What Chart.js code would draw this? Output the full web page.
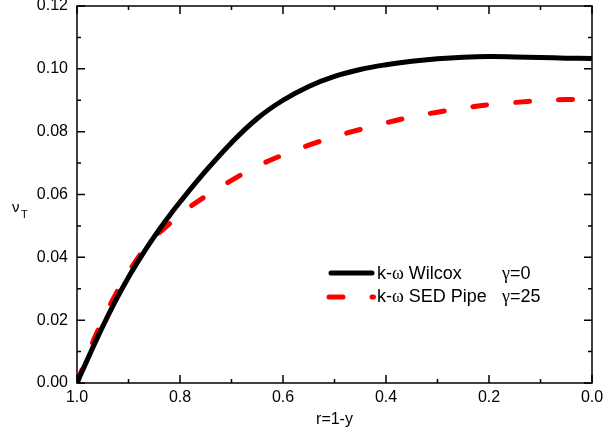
<!DOCTYPE html>
<html lang="en">
<head>
  <meta charset="UTF-8" />
  <title>nu_T profile</title>
  <script src="https://cdn.jsdelivr.net/npm/chart.js@4.4.1/dist/chart.umd.min.js"></script>
  <style>
    * { box-sizing: border-box; margin: 0; padding: 0; }
    body { background: #ffffff; width: 603px; height: 444px; overflow: hidden; }
    .chart-wrapper { position: relative; width: 603px; height: 444px; }
  </style>
</head>
<body>
  <div class="chart-wrapper">
    <canvas id="nuChart"></canvas>
  </div>

  <script>
    // r = 1 - y
    const rValues = [1.0, 0.975, 0.95, 0.925, 0.9, 0.875, 0.85, 0.825, 0.8, 0.75, 0.7, 0.65, 0.6,
                     0.55, 0.5, 0.45, 0.4, 0.35, 0.3, 0.25, 0.2, 0.15, 0.1, 0.05, 0.0];
    // k-omega Wilcox, gamma = 0
    const wilcox = [0, 0.0092, 0.0180, 0.0262, 0.0337, 0.0404, 0.0466, 0.0523, 0.0576, 0.0675, 0.0765,
                    0.0842, 0.0900, 0.0944, 0.0976, 0.0998, 0.1013, 0.1024, 0.1032, 0.1037, 0.1039,
                    0.1038, 0.1036, 0.1034, 0.1033];
    // k-omega SED Pipe, gamma = 25
    const sedPipe = [0, 0.0108, 0.0200, 0.0282, 0.0352, 0.0414, 0.0464, 0.0500, 0.0537, 0.0595, 0.0645,
                     0.0690, 0.0726, 0.0757, 0.0784, 0.0807, 0.0828, 0.0847, 0.0862, 0.0875, 0.0886,
                     0.0893, 0.0899, 0.0902, 0.0904];

    const xTickValues = [1.0, 0.8, 0.6, 0.4, 0.2, 0.0];
    const xTickLabels = ['1.0', '0.8', '0.6', '0.4', '0.2', '0.0'];
    const xMinorTicks = [0.9, 0.7, 0.5, 0.3, 0.1];
    const yTickValues = [0, 0.02, 0.04, 0.06, 0.08, 0.10, 0.12];
    const yTickLabels = ['0.00', '0.02', '0.04', '0.06', '0.08', '0.10', '0.12'];
    const yMinorTicks = [0.01, 0.03, 0.05, 0.07, 0.09, 0.11];

    const SANS = '"Liberation Sans", Arial, sans-serif';
    const SERIF = '"Liberation Serif", "Times New Roman", serif';
    const RED_DASH = [14, 29];

    // draws segments of text [text, font] one after another
    function drawRuns(ctx, runs, x, y) {
      runs.forEach(([txt, font]) => {
        ctx.font = font;
        ctx.fillText(txt, x, y);
        x += ctx.measureText(txt).width;
      });
    }

    const framePlugin = {
      id: 'frame',
      afterDraw(chart) {
        const ctx = chart.ctx;
        const { left, right, top, bottom } = chart.chartArea;
        const xs = chart.scales.x, ys = chart.scales.y;
        ctx.save();
        ctx.strokeStyle = '#000';
        ctx.lineWidth = 1.5;
        ctx.strokeRect(left, top, right - left, bottom - top);

        ctx.beginPath();
        const tickX = (v, len) => {
          const px = xs.getPixelForValue(v);
          ctx.moveTo(px, bottom); ctx.lineTo(px, bottom - len);
          ctx.moveTo(px, top); ctx.lineTo(px, top + len);
        };
        const tickY = (v, len) => {
          const py = ys.getPixelForValue(v);
          ctx.moveTo(left, py); ctx.lineTo(left + len, py);
          ctx.moveTo(right, py); ctx.lineTo(right - len, py);
        };
        xTickValues.forEach(v => tickX(v, 8));
        xMinorTicks.forEach(v => tickX(v, 4));
        yTickValues.forEach(v => tickY(v, 8));
        yMinorTicks.forEach(v => tickY(v, 4));
        ctx.stroke();

        // tick labels
        ctx.fillStyle = '#000';
        ctx.font = '16px ' + SANS;
        ctx.textAlign = 'center';
        ctx.textBaseline = 'middle';
        xTickValues.forEach((v, i) => ctx.fillText(xTickLabels[i], xs.getPixelForValue(v), 398));
        ctx.textAlign = 'right';
        yTickValues.forEach((v, i) => ctx.fillText(yTickLabels[i], 68, ys.getPixelForValue(v)));

        // axis titles
        ctx.textAlign = 'center';
        ctx.font = '16px ' + SANS;
        ctx.fillText('r=1-y', (left + right) / 2, 420);
        ctx.textAlign = 'left';
        ctx.font = '15px ' + SANS;
        ctx.fillText('ν', 12, 208);
        ctx.font = '11px ' + SANS;
        ctx.fillText('T', 21, 215);

        // legend
        ctx.lineCap = 'round';
        ctx.strokeStyle = '#000';
        ctx.lineWidth = 5;
        ctx.beginPath(); ctx.moveTo(331, 273); ctx.lineTo(372, 273); ctx.stroke();
        ctx.strokeStyle = '#ff0000';
        ctx.setLineDash(RED_DASH);
        ctx.beginPath(); ctx.moveTo(329, 297); ctx.lineTo(373.5, 297); ctx.stroke();
        ctx.setLineDash([]);

        ctx.fillStyle = '#000';
        ctx.textBaseline = 'middle';
        drawRuns(ctx, [['k-', '18px ' + SANS], ['ω', '18px ' + SERIF], [' Wilcox', '18px ' + SANS]], 377, 274);
        drawRuns(ctx, [['γ', '18px ' + SERIF], ['=0', '18px ' + SANS]], 502, 274);
        drawRuns(ctx, [['k-', '18px ' + SANS], ['ω', '18px ' + SERIF], [' SED Pipe', '18px ' + SANS]], 377, 297);
        drawRuns(ctx, [['γ', '18px ' + SERIF], ['=25', '18px ' + SANS]], 502, 297);
        ctx.restore();
      }
    };

    new Chart(document.getElementById('nuChart'), {
      type: 'line',
      data: {
        datasets: [
          {
            label: 'k-ω Wilcox  γ=0',
            data: rValues.map((r, i) => ({ x: r, y: wilcox[i] })),
            borderColor: '#000000',
            borderWidth: 5,
            pointRadius: 0,
            tension: 0.4,
            fill: false
          },
          {
            label: 'k-ω SED Pipe  γ=25',
            data: rValues.map((r, i) => ({ x: r, y: sedPipe[i] })),
            borderColor: '#ff0000',
            borderWidth: 5,
            borderDash: RED_DASH,
            borderCapStyle: 'round',
            pointRadius: 0,
            tension: 0.4,
            fill: false
          }
        ]
      },
      options: {
        responsive: true,
        maintainAspectRatio: false,
        animation: false,
        layout: { padding: { left: 77, right: 11, top: 6, bottom: 61 } },
        plugins: { legend: { display: false }, tooltip: { enabled: false } },
        scales: {
          x: { type: 'linear', min: 0, max: 1, reverse: true, display: false },
          y: { type: 'linear', min: 0, max: 0.12, display: false }
        }
      },
      plugins: [framePlugin]
    });
  </script>
</body>
</html>
